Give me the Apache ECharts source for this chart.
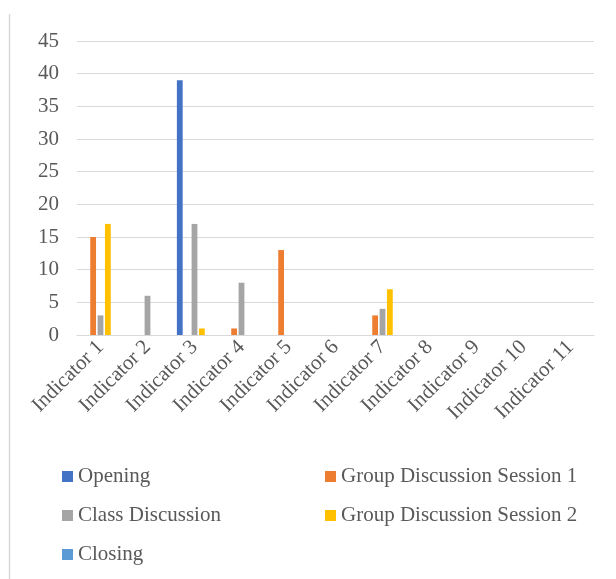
<!DOCTYPE html>
<html>
<head>
<meta charset="utf-8">
<script src="https://cdn.jsdelivr.net/npm/echarts@6/dist/echarts.min.js"></script>
<style>
  html, body { margin: 0; padding: 0; background: #fff; }
  #chart { width: 616px; height: 579px; }
</style>
</head>
<body>
<div id="chart"></div>
<script>
// data
var categories = ['Indicator 1', 'Indicator 2', 'Indicator 3', 'Indicator 4', 'Indicator 5', 'Indicator 6',
  'Indicator 7', 'Indicator 8', 'Indicator 9', 'Indicator 10', 'Indicator 11']
var seriesNames = ['Opening', 'Group Discussion Session 1', 'Class Discussion', 'Group Discussion Session 2', 'Closing']
var opening = [0, 0, 39, 0, 0, 0, 0, 0, 0, 0, 0]
var groupSession1 = [15, 0, 0, 1, 13, 0, 3, 0, 0, 0, 0]
var classDiscussion = [3, 6, 17, 8, 0, 0, 4, 0, 0, 0, 0]
var groupSession2 = [17, 0, 1, 0, 0, 0, 7, 0, 0, 0, 0]
var closing = [0, 0, 0, 0, 0, 0, 0, 0, 0, 0, 0]
var colors = ['#4472C4', '#ED7D31', '#A5A5A5', '#FFC000', '#5B9BD5']

var values = [opening, groupSession1, classDiscussion, groupSession2, closing]
var font = '"Liberation Serif", "Times New Roman", serif'

var chart = echarts.init(document.getElementById('chart'))

var legendBase = {
    orient: 'vertical',
    top: 466,
    padding: 0,
    itemWidth: 11,
    itemHeight: 11,
    itemGap: 18,
    icon: 'rect',
    textStyle: { fontFamily: font, fontSize: 21, color: '#595959' }
}

chart.setOption({
    animation: false,
    color: colors,
    graphic: [{
        type: 'line',
        shape: { x1: 9.5, y1: 14, x2: 9.5, y2: 579 },
        style: { stroke: '#d9d9d9', lineWidth: 1.5 }
    }],
    legend: [
        Object.assign({}, legendBase, { left: 62, data: ['Opening', 'Class Discussion', 'Closing'] }),
        Object.assign({}, legendBase, { left: 325, data: ['Group Discussion Session 1', 'Group Discussion Session 2'] })
    ],
    grid: { left: 77, right: 22, top: 41, bottom: 244 },
    xAxis: {
        type: 'category',
        data: categories,
        axisTick: { show: false },
        axisLine: { lineStyle: { color: '#d9d9d9', width: 1 } },
        axisLabel: {
            rotate: 45,
            interval: 0,
            margin: 9,
            fontFamily: font,
            fontSize: 21,
            color: '#595959'
        }
    },
    yAxis: {
        type: 'value',
        min: 0,
        max: 45,
        interval: 5,
        axisLine: { show: false },
        axisTick: { show: false },
        splitLine: { lineStyle: { color: '#d9d9d9', width: 1 } },
        axisLabel: { fontFamily: font, fontSize: 21, color: '#595959', margin: 18 }
    },
    series: seriesNames.map(function (name, i) {
        return {
            name: name,
            type: 'bar',
            data: values[i],
            barGap: '27%',
            barCategoryGap: '25%'
        }
    })
})
</script>
</body>
</html>
